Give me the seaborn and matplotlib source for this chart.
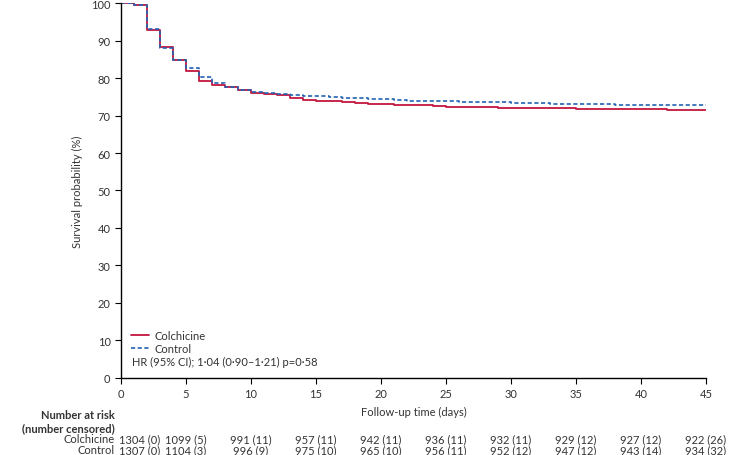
import matplotlib
matplotlib.use("Agg")
import matplotlib.pyplot as plt
import numpy as np
import pandas as pd
import seaborn as sns

# follow-up days and survival (%)
days = list(range(0, 46))
colchicine_surv = [
    100, 99.4, 92.7, 88.3, 84.7, 81.8, 79.3, 78.2, 77.6, 76.9,
    76.0, 75.7, 75.4, 74.8, 74.2, 74.0, 73.9, 73.7, 73.4, 73.1,
    73.0, 72.9, 72.8, 72.7, 72.5, 72.3, 72.3, 72.2, 72.2, 72.1,
    72.0, 72.0, 71.9, 71.9, 71.9, 71.8, 71.8, 71.8, 71.8, 71.7,
    71.7, 71.7, 71.6, 71.6, 71.6, 71.6,
]
control_surv = [
    100, 99.5, 93.2, 88.0, 84.7, 82.8, 80.3, 78.7, 77.7, 76.8,
    76.2, 75.9, 75.7, 75.5, 75.2, 75.1, 75.0, 74.8, 74.6, 74.5,
    74.4, 74.2, 74.0, 73.9, 73.8, 73.8, 73.7, 73.6, 73.5, 73.5,
    73.4, 73.3, 73.3, 73.2, 73.1, 73.1, 73.0, 73.0, 72.9, 72.9,
    72.8, 72.8, 72.8, 72.7, 72.7, 72.7,
]

risk_days = [0, 5, 10, 15, 20, 25, 30, 35, 40, 45]
colchicine_risk = ["1304 (0)", "1099 (5)", "991 (11)", "957 (11)", "942 (11)",
                   "936 (11)", "932 (11)", "929 (12)", "927 (12)", "922 (26)"]
control_risk = ["1307 (0)", "1104 (3)", "996 (9)", "975 (10)", "965 (10)",
                "956 (11)", "952 (12)", "947 (12)", "943 (14)", "934 (32)"]

RED = "#c4163f"
BLUE = "#2263b3"
GREY = "#333333"
FS = 8

sns.set_style("ticks")
plt.rcParams["font.family"] = ["Lato", "DejaVu Sans"]

fig = plt.figure(figsize=(7.53, 4.56), dpi=100)
ax = fig.add_axes([0.1607, 0.1689, 0.7769, 0.8223])

df = pd.DataFrame({"day": days, "Colchicine": colchicine_surv, "Control": control_surv})
sns.lineplot(data=df, x="day", y="Colchicine", ax=ax, color=RED, lw=1.3,
             drawstyle="steps-post", label="Colchicine")
sns.lineplot(data=df, x="day", y="Control", ax=ax, color=BLUE, lw=1.2,
             linestyle=(0, (2.5, 1.5)), drawstyle="steps-post", label="Control")

ax.set_xlim(0, 45)
ax.set_ylim(0, 100)
ax.set_xticks(risk_days)
ax.set_yticks(range(0, 101, 10))
ax.tick_params(labelsize=FS, colors=GREY, length=4, width=0.8)
ax.tick_params(axis="both", color="black")
for side in ["top", "right"]:
    ax.spines[side].set_visible(False)
for side in ["left", "bottom"]:
    ax.spines[side].set_linewidth(1.0)
    ax.spines[side].set_color("black")

ax.set_ylabel("Survival probability (%)", fontsize=FS, color=GREY, labelpad=6)
ax.set_xlabel("Follow-up time (days)", fontsize=FS, color=GREY, labelpad=5)

leg = ax.legend(loc="lower left", bbox_to_anchor=(0.003, 0.043), frameon=False,
                fontsize=FS, handlelength=1.7, handletextpad=0.5,
                labelspacing=0.22, borderaxespad=0.3)
for t in leg.get_texts():
    t.set_color(GREY)
ax.text(0.018, 0.043, "HR (95% CI); 1\u00b704 (0\u00b790\u20131\u00b721) p=0\u00b758",
        transform=ax.transAxes, fontsize=FS, color=GREY, va="center")

# number-at-risk table below the axis
def fig_y(py):
    return 1 - py / 456

lab_x = 115 / 753
fig.text(lab_x, fig_y(416), "Number at risk", ha="right", va="center",
         fontsize=FS, fontweight="bold", color=GREY)
fig.text(lab_x, fig_y(428.5), "(number censored)", ha="right", va="center",
         fontsize=FS, fontweight="bold", color=GREY)
fig.text(lab_x, fig_y(440), "Colchicine", ha="right", va="center", fontsize=FS, color=GREY)
fig.text(lab_x, fig_y(450.5), "Control", ha="right", va="center", fontsize=FS, color=GREY)

trans = matplotlib.transforms.blended_transform_factory(ax.transData, fig.transFigure)
for i, (d, a, b) in enumerate(zip(risk_days, colchicine_risk, control_risk)):
    # first column sits to the right of the axis so it clears the row labels
    x = d - 0.15 if i == 0 else d
    ha = "left" if i == 0 else "center"
    ax.text(x, fig_y(440), a, transform=trans, ha=ha, va="center",
            fontsize=FS, color=GREY, clip_on=False)
    ax.text(x, fig_y(450.5), b, transform=trans, ha=ha, va="center",
            fontsize=FS, color=GREY, clip_on=False)

fig.savefig("out.png", dpi=100)
